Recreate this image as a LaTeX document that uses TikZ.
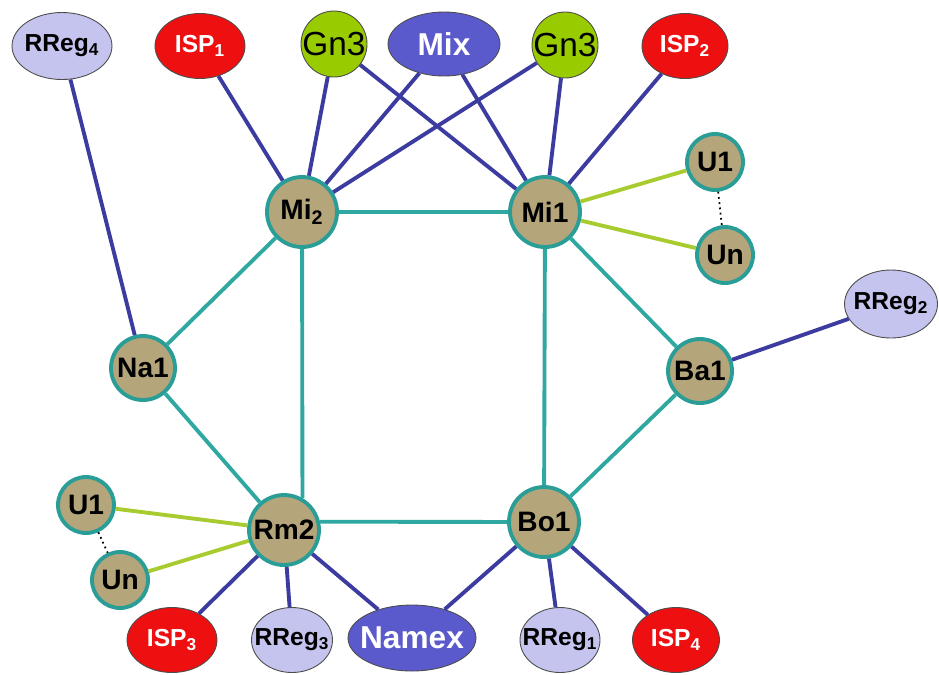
\documentclass[tikz,border=0pt]{standalone}
\usepackage{fontspec}
\setmainfont{Liberation Sans}
\usetikzlibrary{shapes.geometric}

\definecolor{popfill}{HTML}{B5A57B}
\definecolor{popborder}{HTML}{2A9D96}
\definecolor{dorsale}{HTML}{2EA8A0}
\definecolor{uplink}{HTML}{3C3CA0}
\definecolor{utente}{HTML}{A8CC30}
\definecolor{ispred}{HTML}{EE1010}
\definecolor{rreglav}{HTML}{C4C4EE}
\definecolor{ixblue}{HTML}{5A5ACD}
\definecolor{gnverde}{HTML}{99CC00}

% etichetta centrata senza larghezza propria
\newcommand{\lbl}[1]{\makebox[0pt]{#1}}

\tikzset{
    pop/.style={circle, draw=popborder, fill=popfill, line width=2.2pt,
        inner sep=0pt, minimum size=1.4cm, font=\bfseries\fontsize{16}{16}\selectfont},
    utenza/.style={pop, minimum size=1.12cm},
    isp/.style={ellipse, draw=black!70, fill=ispred, line width=0.5pt, text=white,
        inner sep=0pt, minimum width=1.8cm, minimum height=1.3cm,
        font=\bfseries\fontsize{14}{14}\selectfont},
    rreg/.style={isp, fill=rreglav, text=black},
    ix/.style={isp, fill=ixblue, minimum height=1.3cm,
        font=\bfseries\fontsize{18}{18}\selectfont},
    gn/.style={circle, draw=black!70, fill=gnverde, line width=0.5pt,
        inner sep=0pt, minimum size=1.32cm, font=\fontsize{19}{19}\selectfont},
    lblu/.style={uplink, line width=2.2pt},
    lteal/.style={dorsale, line width=2.2pt},
    lverde/.style={utente, line width=2.2pt}
}

\begin{document}
\begin{tikzpicture}[x=0.02cm,y=-0.02cm]
    \useasboundingbox (0,0) rectangle (939,674);

    % PoP della dorsale
    \node[pop] (mi2) at (302,212) {\lbl{Mi\textsubscript{2}}};
    \node[pop] (mi1) at (545,212) {\lbl{Mi1}};
    \node[pop, minimum size=1.28cm] (na1) at (143,368) {\lbl{Na1}};
    \node[pop, minimum size=1.28cm] (ba1) at (700,371) {\lbl{Ba1}};
    \node[pop] (rm2) at (284,530) {\lbl{Rm2}};
    \node[pop] (bo1) at (544,522) {\lbl{Bo1}};

    % Utenze
    \node[utenza] (u1a) at (715,162) {\lbl{U1}};
    \node[utenza] (una) at (725,255) {\lbl{Un}};
    \node[utenza] (u1b) at (86,505) {\lbl{U1}};
    \node[utenza] (unb) at (120,580) {\lbl{Un}};

    % Nodi esterni in alto
    \node[rreg, minimum width=2cm, minimum height=1.34cm] (rreg4) at (62,46) {\lbl{RReg\textsubscript{4}}};
    \node[isp] (isp1) at (200,46) {\lbl{ISP\textsubscript{1}}};
    \node[gn] (gn3a) at (334,44) {\lbl{Gn3}};
    \node[ix, minimum width=2.24cm, minimum height=1.28cm] (mix) at (444,44) {\lbl{Mix}};
    \node[gn] (gn3b) at (565,45) {\lbl{Gn3}};
    \node[isp, minimum width=1.72cm] (isp2) at (685,46) {\lbl{ISP\textsubscript{2}}};
    \node[rreg, minimum width=1.86cm, minimum height=1.36cm] (rreg2) at (891,304) {\lbl{RReg\textsubscript{2}}};

    % Nodi esterni in basso
    \node[isp] (isp3) at (172,640) {\lbl{ISP\textsubscript{3}}};
    \node[rreg, minimum width=1.62cm] (rreg3) at (292,640) {\lbl{RReg\textsubscript{3}}};
    \node[ix, minimum width=2.56cm, minimum height=1.32cm] (namex) at (412,638) {\lbl{Namex}};
    \node[rreg, minimum width=1.6cm] (rreg1) at (560,640) {\lbl{RReg\textsubscript{1}}};
    \node[isp, minimum width=1.74cm] (isp4) at (676,640) {\lbl{ISP\textsubscript{4}}};

    % Collegamenti di dorsale
    \foreach \a/\b in {mi2/mi1, mi2/na1, mi1/bo1, mi1/ba1, na1/rm2, bo1/ba1}
        \draw[lteal] (\a) -- (\b);
    \draw[lteal] (mi2) -- (rm2.60);
    \draw[lteal] (rm2.13) -- (bo1);

    % Collegamenti verso ISP, RReg e IX
    \foreach \a/\b in {rreg4/na1, isp1/mi2, gn3a/mi2, gn3a/mi1, mix/mi2, mix/mi1,
                       gn3b/mi2, gn3b/mi1, isp2/mi1, ba1/rreg2,
                       rm2/isp3, rm2/rreg3, rm2/namex, bo1/namex, bo1/rreg1, bo1/isp4}
        \draw[lblu] (\a) -- (\b);

    % Utenze
    \foreach \a/\b in {mi1/u1a, mi1/una, rm2/u1b, rm2/unb}
        \draw[lverde] (\a) -- (\b);
    \draw[dotted, line width=1pt] (u1a) -- (una);
    \draw[dotted, line width=1pt] (u1b) -- (unb);

\end{tikzpicture}
\end{document}
